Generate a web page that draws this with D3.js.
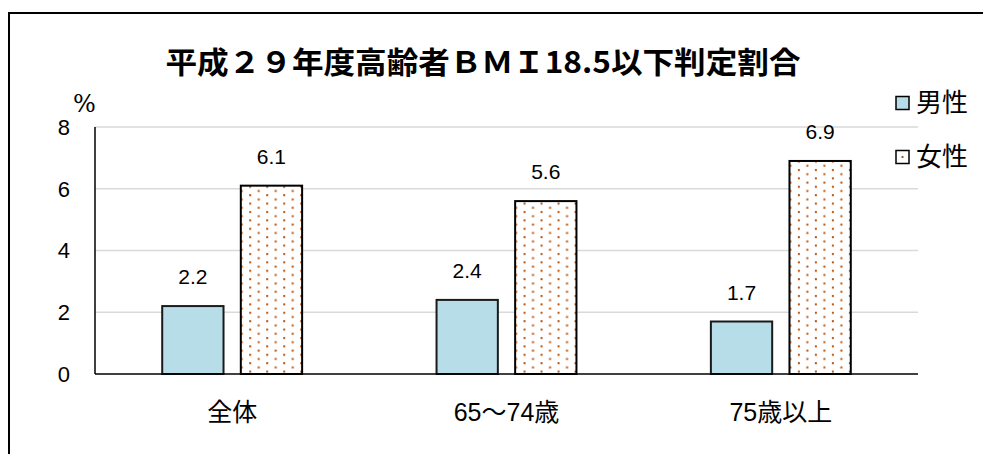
<!DOCTYPE html>
<html>
<head>
<meta charset="utf-8">
<script src="https://cdn.jsdelivr.net/npm/d3@7"></script>
<style>
  body { margin: 0; background: #fff; }
  svg { display: block; }
</style>
</head>
<body>
<script>
const categories = ['全体', '65～74歳', '75歳以上'];
const series = ['男性', '女性'];
const maleValues = [2.2, 2.4, 1.7];
const femaleValues = [6.1, 5.6, 6.9];
const yTicks = [0, 2, 4, 6, 8];

const width = 983;
const height = 454;
const plot = {left: 95, right: 918, top: 127, bottom: 374};
const sans = '"Liberation Sans", Arial, "Noto Sans CJK JP", sans-serif';

const svg = d3.select('body').append('svg')
  .attr('width', width)
  .attr('height', height);

// dotted pattern for the female bars
const defs = svg.append('defs');
const pat = defs.append('pattern')
  .attr('id', 'dots')
  .attr('patternUnits', 'userSpaceOnUse')
  .attr('width', 17)
  .attr('height', 8.4);
pat.append('rect').attr('width', 17).attr('height', 8.4).attr('fill', '#fff');
pat.append('rect').attr('x', 2).attr('y', 1).attr('width', 2).attr('height', 2).attr('fill', '#b9530f');
pat.append('rect').attr('x', 10.5).attr('y', 5.2).attr('width', 2).attr('height', 2).attr('fill', '#b9530f');

// outer frame
svg.append('rect')
  .attr('x', 9).attr('y', 13)
  .attr('width', 990).attr('height', 460)
  .attr('fill', 'none')
  .attr('stroke', '#000')
  .attr('stroke-width', 2);

const x0 = d3.scaleBand()
  .domain(categories)
  .range([plot.left, plot.right])
  .paddingInner(0.49)
  .paddingOuter(0.245);

const x1 = d3.scaleBand()
  .domain(series)
  .range([0, x0.bandwidth()])
  .paddingInner(0.22);

const y = d3.scaleLinear()
  .domain([0, 8])
  .range([plot.bottom, plot.top]);

// gridlines
svg.append('g')
  .selectAll('line')
  .data(yTicks.filter(d => d > 0))
  .enter()
  .append('line')
  .attr('x1', plot.left)
  .attr('x2', plot.right)
  .attr('y1', d => y(d))
  .attr('y2', d => y(d))
  .attr('stroke', '#d9d9d9')
  .attr('stroke-width', 1.5);

// y tick labels
svg.append('g')
  .selectAll('text')
  .data(yTicks)
  .enter()
  .append('text')
  .attr('x', 70)
  .attr('y', d => y(d))
  .attr('dy', '0.36em')
  .attr('text-anchor', 'end')
  .attr('font-family', sans)
  .attr('font-size', 22)
  .text(d => d);

svg.append('text')
  .attr('x', 73)
  .attr('y', 112)
  .attr('font-family', '"DejaVu Serif", "Liberation Serif", serif')
  .attr('font-size', 24)
  .text('%');

const rows = categories.map((c, i) => ({cat: c, values: [maleValues[i], femaleValues[i]]}));

const groups = svg.selectAll('g.grp')
  .data(rows)
  .enter()
  .append('g')
  .attr('class', 'grp')
  .attr('transform', d => 'translate(' + x0(d.cat) + ',0)');

const bars = groups.selectAll('g.bar')
  .data(d => d.values.map((v, j) => ({s: series[j], v: v})))
  .enter()
  .append('g')
  .attr('class', 'bar');

bars.append('rect')
  .attr('x', d => x1(d.s))
  .attr('y', d => y(d.v))
  .attr('width', x1.bandwidth())
  .attr('height', d => y(0) - y(d.v))
  .attr('fill', d => d.s === '男性' ? '#b7dde8' : 'url(#dots)')
  .attr('stroke', d => d.s === '男性' ? '#1a1a1a' : '#000')
  .attr('stroke-width', 2);

bars.append('text')
  .attr('x', d => x1(d.s) + x1.bandwidth() / 2)
  .attr('y', d => y(d.v) - 22)
  .attr('text-anchor', 'middle')
  .attr('font-family', sans)
  .attr('font-size', 21)
  .text(d => d.v.toFixed(1));

// y axis line and baseline
svg.append('line')
  .attr('x1', plot.left).attr('x2', plot.left)
  .attr('y1', y(8)).attr('y2', y(0))
  .attr('stroke', '#000').attr('stroke-width', 1.5);
svg.append('line')
  .attr('x1', plot.left).attr('x2', plot.right)
  .attr('y1', y(0)).attr('y2', y(0))
  .attr('stroke', '#000').attr('stroke-width', 1.5);

// category labels
svg.append('g')
  .selectAll('text')
  .data(categories)
  .enter()
  .append('text')
  .attr('x', d => x0(d) + x0.bandwidth() / 2)
  .attr('y', 421)
  .attr('text-anchor', 'middle')
  .attr('font-family', sans)
  .attr('font-size', 25)
  .text(d => d);

// title
svg.append('text')
  .attr('x', 483)
  .attr('y', 73)
  .attr('text-anchor', 'middle')
  .attr('font-family', '"Noto Sans CJK JP", sans-serif')
  .attr('font-weight', 'bold')
  .attr('font-size', 30)
  .attr('textLength', 635)
  .attr('lengthAdjust', 'spacingAndGlyphs')
  .text('平成２９年度高齢者ＢＭＩ18.5以下判定割合');

// legend
const legend = svg.append('g')
  .selectAll('g')
  .data(series)
  .enter()
  .append('g')
  .attr('transform', (d, i) => 'translate(896,' + (103 + i * 54) + ')');

legend.append('rect')
  .attr('x', 0).attr('y', -6.5)
  .attr('width', 13).attr('height', 13)
  .attr('fill', d => d === '男性' ? '#b7dde8' : '#fff')
  .attr('stroke', '#000')
  .attr('stroke-width', 1.5);
legend.filter(d => d === '女性').append('rect')
  .attr('x', 5.5).attr('y', -1).attr('width', 2).attr('height', 2)
  .attr('fill', '#b9530f');

legend.append('text')
  .attr('x', 20)
  .attr('y', 0)
  .attr('dy', '0.36em')
  .attr('font-family', '"Noto Sans CJK JP", sans-serif')
  .attr('font-size', 26)
  .text(d => d);
</script>
</body>
</html>
